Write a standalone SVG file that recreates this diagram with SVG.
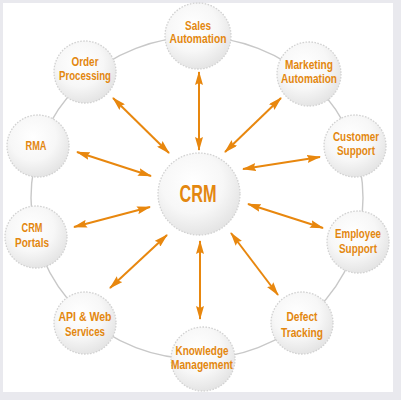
<svg xmlns="http://www.w3.org/2000/svg" width="401" height="400" viewBox="0 0 401 400">
<defs>
<style>
.node{fill:url(#ng);stroke:#d2d2d2;stroke-width:1.3;stroke-dasharray:1.6 1.4}
.lbl{font-family:"Liberation Sans",Arial,sans-serif;font-weight:bold;font-size:12px;fill:#e3870f;text-anchor:middle}
.arr{stroke:#e8870e;stroke-width:2;fill:none;marker-start:url(#ah);marker-end:url(#ah)}
</style>
<radialGradient id="ng" cx="0.42" cy="0.36" r="0.68">
<stop offset="0" stop-color="#ffffff"/>
<stop offset="0.55" stop-color="#f7f7f7"/>
<stop offset="1" stop-color="#e2e2e2"/>
</radialGradient>
<marker id="ah" viewBox="0 0 14 8" refX="13" refY="4" markerWidth="14" markerHeight="8" markerUnits="userSpaceOnUse" orient="auto-start-reverse">
<path d="M0,0 L14,4 L0,8 L2,4 Z" fill="#e8870e"/>
</marker>
</defs>
<rect x="0" y="0" width="401" height="400" fill="#e9e9ee"/>
<rect x="3" y="3" width="390" height="389" fill="#ffffff"/>
<ellipse cx="197" cy="198" rx="166" ry="161" fill="none" stroke="#c8c8c8" stroke-width="1.4"/>
<g id="connectors">
<line class="arr" x1="199" y1="150" x2="199" y2="72"/>
<line class="arr" x1="225" y1="152" x2="281" y2="98"/>
<line class="arr" x1="243" y1="169" x2="320" y2="157"/>
<line class="arr" x1="248" y1="204" x2="323" y2="228"/>
<line class="arr" x1="231" y1="233" x2="278" y2="295"/>
<line class="arr" x1="200" y1="241" x2="200" y2="319"/>
<line class="arr" x1="167" y1="235" x2="110" y2="288"/>
<line class="arr" x1="150" y1="207" x2="74" y2="227"/>
<line class="arr" x1="151" y1="176" x2="77" y2="152"/>
<line class="arr" x1="169" y1="153" x2="113" y2="98"/>
</g>
<g id="crm">
<circle class="node" cx="199" cy="194" r="41"/>
<text class="lbl" x="198" y="202" textLength="37" lengthAdjust="spacingAndGlyphs" style="font-size:24px">CRM</text>
</g>
<g id="sales-automation">
<circle class="node" cx="198" cy="36" r="33"/>
<text class="lbl" x="198" y="30" textLength="26" lengthAdjust="spacingAndGlyphs">Sales</text>
<text class="lbl" x="198" y="43" textLength="57" lengthAdjust="spacingAndGlyphs">Automation</text>
</g>
<g id="order-processing">
<circle class="node" cx="85" cy="72" r="31"/>
<text class="lbl" x="85" y="66" textLength="27" lengthAdjust="spacingAndGlyphs">Order</text>
<text class="lbl" x="85" y="80" textLength="52" lengthAdjust="spacingAndGlyphs">Processing</text>
</g>
<g id="marketing-automation">
<circle class="node" cx="309" cy="74" r="32"/>
<text class="lbl" x="309" y="69" textLength="48" lengthAdjust="spacingAndGlyphs">Marketing</text>
<text class="lbl" x="309" y="83" textLength="56" lengthAdjust="spacingAndGlyphs">Automation</text>
</g>
<g id="rma">
<circle class="node" cx="38" cy="146" r="31"/>
<text class="lbl" x="36" y="150" textLength="21" lengthAdjust="spacingAndGlyphs">RMA</text>
</g>
<g id="customer-support">
<circle class="node" cx="355" cy="146" r="31"/>
<text class="lbl" x="356" y="141" textLength="46" lengthAdjust="spacingAndGlyphs">Customer</text>
<text class="lbl" x="356" y="155" textLength="38" lengthAdjust="spacingAndGlyphs">Support</text>
</g>
<g id="crm-portals">
<circle class="node" cx="36" cy="237" r="31"/>
<text class="lbl" x="32" y="232" textLength="21" lengthAdjust="spacingAndGlyphs">CRM</text>
<text class="lbl" x="32" y="247" textLength="34" lengthAdjust="spacingAndGlyphs">Portals</text>
</g>
<g id="employee-support">
<circle class="node" cx="358" cy="242" r="31"/>
<text class="lbl" x="358" y="238" textLength="46" lengthAdjust="spacingAndGlyphs">Employee</text>
<text class="lbl" x="358" y="253" textLength="38" lengthAdjust="spacingAndGlyphs">Support</text>
</g>
<g id="api-web-services">
<circle class="node" cx="85" cy="323" r="31"/>
<text class="lbl" x="85" y="321" textLength="53" lengthAdjust="spacingAndGlyphs">API &amp; Web</text>
<text class="lbl" x="85" y="336" textLength="40" lengthAdjust="spacingAndGlyphs">Services</text>
</g>
<g id="defect-tracking">
<circle class="node" cx="302" cy="323" r="31"/>
<text class="lbl" x="302" y="321" textLength="31" lengthAdjust="spacingAndGlyphs">Defect</text>
<text class="lbl" x="302" y="337" textLength="42" lengthAdjust="spacingAndGlyphs">Tracking</text>
</g>
<g id="knowledge-management">
<circle class="node" cx="203" cy="359" r="32"/>
<text class="lbl" x="202" y="355" textLength="53" lengthAdjust="spacingAndGlyphs">Knowledge</text>
<text class="lbl" x="202" y="369" textLength="62" lengthAdjust="spacingAndGlyphs">Management</text>
</g>
</svg>
